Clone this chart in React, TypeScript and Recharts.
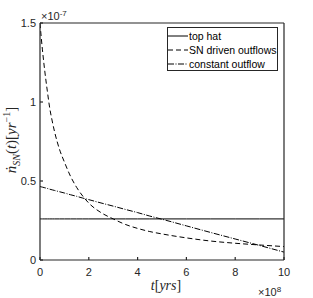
import React from 'react';
import { LineChart, Line, XAxis, YAxis, Legend } from 'recharts';

// time in units of 1e8 yr, rates in units of 1e-7 yr^-1
const tYears = [0, 0.05, 0.1, 0.2, 0.3, 0.4, 0.5, 0.6, 0.8, 1, 1.25, 1.5, 1.75, 2, 2.5, 3, 3.5, 4, 4.5, 5, 6, 7, 8, 9, 10];
const topHat = [0.26, 0.26, 0.26, 0.26, 0.26, 0.26, 0.26, 0.26, 0.26, 0.26, 0.26, 0.26, 0.26, 0.26, 0.26, 0.26, 0.26, 0.26, 0.26, 0.26, 0.26, 0.26, 0.26, 0.26, 0.26];
const snDriven = [1.5, 1.41, 1.33, 1.19, 1.07, 0.96, 0.88, 0.81, 0.7, 0.62, 0.53, 0.46, 0.405, 0.36, 0.3, 0.26, 0.225, 0.2, 0.18, 0.165, 0.14, 0.12, 0.106, 0.095, 0.085];
const constantOutflow = [0.465, 0.463, 0.461, 0.457, 0.453, 0.448, 0.444, 0.44, 0.432, 0.424, 0.413, 0.403, 0.392, 0.382, 0.361, 0.341, 0.32, 0.3, 0.278, 0.258, 0.216, 0.174, 0.133, 0.092, 0.05];

const xTicks = [0, 2, 4, 6, 8, 10];
const yTicks = [0, 0.5, 1, 1.5];

const series = [
  { key: 'topHat', name: 'top hat', dash: undefined as string | undefined },
  { key: 'snDriven', name: 'SN driven outflows', dash: '5 3' },
  { key: 'constantOutflow', name: 'constant outflow', dash: '6 1.5 1 1.5' },
];

const data = tYears.map((t, i) => ({
  t,
  topHat: topHat[i],
  snDriven: snDriven[i],
  constantOutflow: constantOutflow[i],
}));

const axisColor = '#262626';
const tickFont = { fill: axisColor, fontSize: 11, fontFamily: 'Liberation Sans, Arial, sans-serif' };
const mathFont = '"Liberation Serif", "Times New Roman", serif';

const LegendBox = () => (
  <div style={{ width: 111, height: 44, border: '1px solid #262626', background: '#fff', boxSizing: 'border-box', paddingTop: 1 }}>
    {series.map(s => (
      <div key={s.key} style={{ height: 14, display: 'flex', alignItems: 'center' }}>
        <svg width={21} height={14} style={{ flex: 'none' }}>
          <line x1={0} y1={7} x2={20} y2={7} stroke="#000" strokeWidth={1} strokeDasharray={s.dash} />
        </svg>
        <span style={{ fontFamily: 'Liberation Sans, Arial, sans-serif', fontSize: 10.5, color: '#000', whiteSpace: 'nowrap', lineHeight: '14px' }}>{s.name}</span>
      </div>
    ))}
  </div>
);

export default function App() {
  return (
    <div style={{ position: 'absolute', left: 0, top: 0, width: 313, height: 298, background: '#fff' }}>
      <LineChart width={313} height={298} data={data} margin={{ top: 22, right: 28, bottom: 0, left: 0 }}>
        <XAxis
          dataKey="t"
          type="number"
          domain={[0, 10]}
          ticks={xTicks}
          height={38}
          tickSize={-3}
          tickMargin={11}
          stroke={axisColor}
          strokeWidth={1.2}
          tick={tickFont}
          allowDataOverflow
        />
        <XAxis
          xAxisId="top"
          orientation="top"
          type="number"
          domain={[0, 10]}
          ticks={xTicks}
          height={1}
          tickSize={-3}
          tick={false}
          stroke={axisColor}
          strokeWidth={1.2}
          allowDataOverflow
        />
        <YAxis
          type="number"
          domain={[0, 1.5]}
          ticks={yTicks}
          width={40}
          tickSize={-3}
          tickMargin={7}
          stroke={axisColor}
          strokeWidth={1.2}
          tick={tickFont}
          allowDataOverflow
        />
        <YAxis
          yAxisId="right"
          orientation="right"
          type="number"
          domain={[0, 1.5]}
          ticks={yTicks}
          width={1}
          tickSize={-3}
          tick={false}
          stroke={axisColor}
          strokeWidth={1.2}
          allowDataOverflow
        />
        <Legend
          layout="vertical"
          align="center"
          verticalAlign="middle"
          content={() => <LegendBox />}
          wrapperStyle={{ left: 167, top: 27, width: 111, height: 44 }}
        />
        {series.map(s => (
          <Line
            key={s.key}
            dataKey={s.key}
            name={s.name}
            type="monotone"
            stroke="#000"
            strokeWidth={1}
            strokeDasharray={s.dash}
            dot={false}
            isAnimationActive={false}
          />
        ))}
      </LineChart>

      <div style={{ position: 'absolute', left: 41, top: 8, fontFamily: 'Liberation Sans, Arial, sans-serif', fontSize: 11, color: axisColor, lineHeight: '11px', whiteSpace: 'nowrap' }}>
        ×10<sup style={{ fontSize: 8, verticalAlign: 4 }}>-7</sup>
      </div>
      <div style={{ position: 'absolute', left: 258, top: 284, fontFamily: 'Liberation Sans, Arial, sans-serif', fontSize: 11, color: axisColor, lineHeight: '11px', whiteSpace: 'nowrap' }}>
        ×10<sup style={{ fontSize: 8, verticalAlign: 4 }}>8</sup>
      </div>
      <div style={{ position: 'absolute', left: 166, top: 279, transform: 'translateX(-50%)', fontFamily: mathFont, fontSize: 14, color: axisColor, whiteSpace: 'nowrap', lineHeight: '14px' }}>
        <i>t</i>[<i>yrs</i>]
      </div>
      <div style={{ position: 'absolute', left: 12, top: 140, transform: 'translate(-50%, -50%) rotate(-90deg)', fontFamily: mathFont, fontSize: 15, color: axisColor, whiteSpace: 'nowrap', lineHeight: '16px' }}>
        <i>ṅ</i><sub style={{ fontSize: 10, fontStyle: 'italic' }}>SN</sub>(<i>t</i>)[<i>yr</i><sup style={{ fontSize: 10 }}>−1</sup>]
      </div>
    </div>
  );
}
